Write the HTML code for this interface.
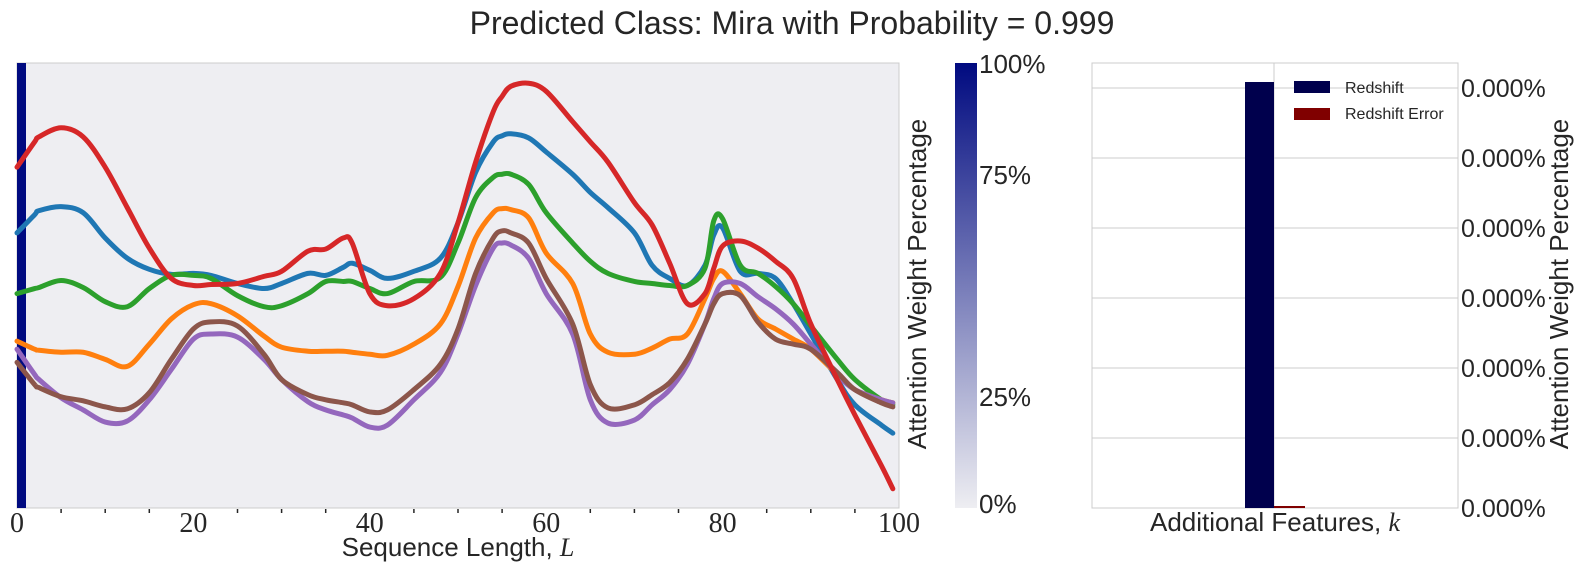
<!DOCTYPE html>
<html><head><meta charset="utf-8"><style>
body{margin:0;background:#fff;width:1584px;height:576px;overflow:hidden;font-family:"Liberation Sans",sans-serif;}
text{fill:#262626}
</style></head><body>
<svg width="1584" height="576" xmlns="http://www.w3.org/2000/svg">
<defs><linearGradient id="cb" x1="0" y1="1" x2="0" y2="0"><stop offset="0" stop-color="#eeeef2"/><stop offset="1" stop-color="#000a80"/></linearGradient></defs>
<text x="792" y="34" font-size="32" text-anchor="middle">Predicted Class: Mira with Probability = 0.999</text>
<rect x="17" y="63" width="882" height="445" fill="#eeeef2" stroke="#cccccc"/>
<rect x="17" y="63" width="9" height="445" fill="#000a80"/>
<g id="lines"></g>
<g id="xticks"></g>
<text x="458" y="556" font-size="26" text-anchor="middle">Sequence Length, <tspan font-family="Liberation Serif" font-style="italic">L</tspan></text>
<rect x="955" y="63" width="22" height="445" fill="url(#cb)"/>
<g font-size="26">
<text x="979" y="73">100%</text><text x="979" y="184">75%</text><text x="979" y="406">25%</text><text x="979" y="513">0%</text></g>
<text transform="translate(926,284) rotate(-90)" font-size="26" text-anchor="middle">Attention Weight Percentage</text>
<rect x="1092" y="63" width="366" height="445" fill="#fff" stroke="#cccccc"/>
<g id="rgrid"></g>
<line x1="1274" y1="63" x2="1274" y2="508" stroke="#cccccc"/>
<rect x="1245" y="82" width="29" height="426" fill="#00004d"/>
<rect x="1274" y="506" width="31" height="2" fill="#800000"/>
<g>
<rect x="1294" y="81" width="36" height="12" fill="#00004d"/>
<text x="1345" y="93" font-size="16">Redshift</text>
<rect x="1294" y="108" width="36" height="12" fill="#800000"/>
<text x="1345" y="119" font-size="16">Redshift Error</text></g>
<text x="1275" y="531" font-size="26" text-anchor="middle">Additional Features, <tspan font-family="Liberation Serif" font-style="italic">k</tspan></text>
<text transform="translate(1568,284) rotate(-90)" font-size="26" text-anchor="middle">Attention Weight Percentage</text>
</svg>
<script>
const ns="http://www.w3.org/2000/svg";
const xs=[0,2,2.5,5,7.5,10,12.5,15,17.5,20,22,25,28,30,33,35,37,38,40,42,45,48,50,52,54,55,56,58,60,63,65,67,70,72,74,76,78,79,80,82,84,86,88,90,93,95,98,99.3];
const red=[165,140,135,126,135,165,205,245,275,282,281,280,273,268,248,246,235,240,290,302,295,270,220,160,110,95,85,82,90,120,140,160,200,222,260,300,290,265,243,238,245,258,275,320,375,410,460,483];
const blue=[230,212,208,204,210,235,255,266,271,270,272,280,285,280,270,272,264,260,267,275,268,255,220,170,140,134,132,136,150,172,190,205,230,262,275,282,262,232,225,268,270,275,300,330,375,400,420,428];
const green=[290,285,284,277,284,298,303,285,272,272,275,292,303,302,290,278,278,278,285,290,278,274,240,195,175,172,172,182,210,240,258,270,278,280,282,282,265,218,216,262,270,283,300,322,355,375,395,400];
const orange=[337,345,346,348,348,355,362,340,315,301,300,312,332,343,347,347,347,348,350,351,340,320,283,235,210,206,207,215,250,280,330,348,350,344,335,330,295,275,268,290,315,325,335,345,370,385,395,398];
const purple=[345,370,375,393,405,417,416,395,365,335,330,333,355,375,397,405,410,413,422,420,395,368,330,282,245,240,242,255,290,330,395,418,415,400,385,360,320,295,280,280,293,305,320,340,370,385,395,398];
const brown=[358,380,383,392,396,402,404,388,355,325,318,322,350,375,390,395,398,400,407,405,385,360,325,270,235,228,230,240,275,320,380,403,400,390,378,355,320,300,290,292,318,335,340,345,368,385,398,402];
const series=[[blue,"#1f77b4","line-blue"],[green,"#2ca02c","line-green"],[orange,"#ff7f0e","line-orange"],[purple,"#9467bd","line-purple"],[brown,"#8c564b","line-brown"],[red,"#d62728","line-red"]];
const xTicks=[0,20,40,60,80,100];
const rTicks=["0.000%","0.000%","0.000%","0.000%","0.000%","0.000%","0.000%"];
const X=v=>17+v*8.82, Y=p=>508-(502-p)/440*445;
const g=document.getElementById('lines');
series.forEach(([d,c,n])=>{
 const pts=xs.map((x,i)=>[X(x),Y(d[i])]);
 let s=`M${pts[0][0]},${pts[0][1]}`;
 for(let i=0;i<pts.length-1;i++){const p0=pts[Math.max(0,i-1)],p1=pts[i],p2=pts[i+1],p3=pts[Math.min(pts.length-1,i+2)];
 s+=` C${p1[0]+(p2[0]-p0[0])/6},${p1[1]+(p2[1]-p0[1])/6} ${p2[0]-(p3[0]-p1[0])/6},${p2[1]-(p3[1]-p1[1])/6} ${p2[0]},${p2[1]}`;}
 const p=document.createElementNS(ns,'path');p.setAttribute('d',s);p.setAttribute('fill','none');p.setAttribute('stroke',c);p.setAttribute('stroke-width','5');p.setAttribute('stroke-linecap','round');p.setAttribute('stroke-linejoin','round');
 
 
 g.appendChild(p);});
const xt=document.getElementById('xticks');
for(let v=5;v<100;v+=5){if(v%20==0)continue;const l=document.createElementNS(ns,'line');l.setAttribute('x1',X(v));l.setAttribute('x2',X(v));l.setAttribute('y1',509);l.setAttribute('y2',513);l.setAttribute('stroke','#262626');l.setAttribute('stroke-width','1.5');
 
 
 xt.appendChild(l);}
xTicks.forEach(v=>{const t=document.createElementNS(ns,'text');t.setAttribute('x',X(v));t.setAttribute('y',532);t.setAttribute('text-anchor','middle');t.setAttribute('font-size','28');t.setAttribute('font-family','Liberation Serif');t.textContent=v;
 
 
 xt.appendChild(t);});
const rg=document.getElementById('rgrid');
rTicks.forEach((lab,i)=>{const y=508-i*70;const l=document.createElementNS(ns,'line');l.setAttribute('x1',1092);l.setAttribute('x2',1458);l.setAttribute('y1',y);l.setAttribute('y2',y);l.setAttribute('stroke','#cccccc');
 
 
 rg.appendChild(l);
 const t=document.createElementNS(ns,'text');t.setAttribute('x',1461);t.setAttribute('y',y+9);t.setAttribute('font-size','25');t.textContent=lab;
 
 
 rg.appendChild(t);});
</script>
</body></html>
